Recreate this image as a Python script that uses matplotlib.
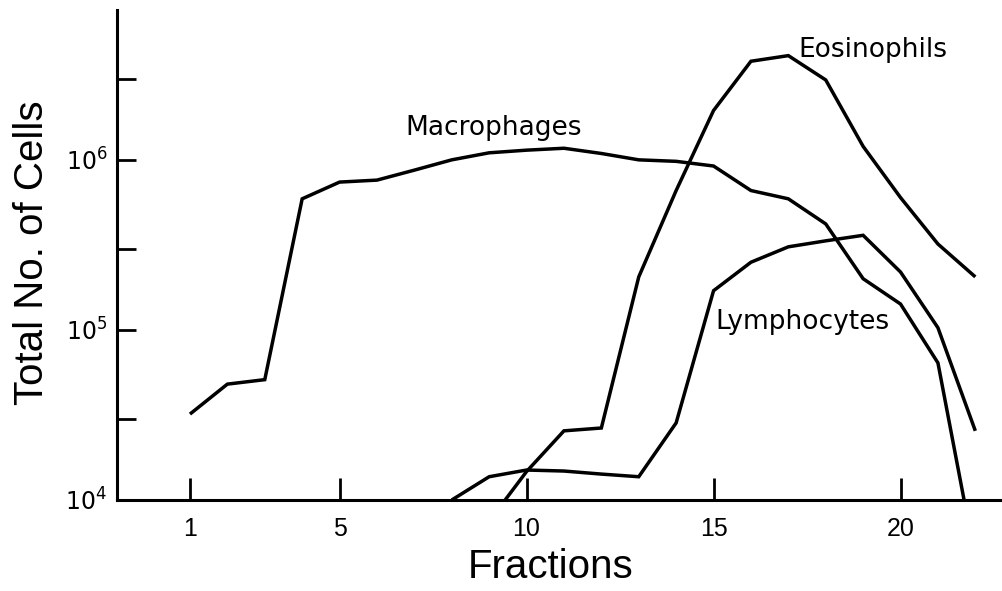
import matplotlib
matplotlib.use("Agg")
import matplotlib.pyplot as plt
from matplotlib.ticker import FixedLocator, NullLocator

plt.rcParams["mathtext.fontset"] = "dejavusans"

# ---- data ----
mac_fr = list(range(1, 23))
macrophages = [3.2e4, 4.8e4, 5.1e4, 5.9e5, 7.4e5, 7.6e5, 8.7e5, 1.0e6, 1.1e6, 1.14e6, 1.17e6,
               1.09e6, 1.0e6, 9.8e5, 9.2e5, 6.6e5, 5.9e5, 4.2e5, 2.0e5, 1.42e5, 6.4e4, 4.5e3]

eos_fr = list(range(9, 23))
eosinophils = [7.5e3, 1.47e4, 2.55e4, 2.65e4, 2.05e5, 6.6e5, 1.95e6, 3.8e6, 4.1e6, 2.95e6,
               1.2e6, 6.0e5, 3.2e5, 2.05e5]

lym_fr = list(range(8, 23))
lymphocytes = [1.0e4, 1.37e4, 1.5e4, 1.48e4, 1.42e4, 1.37e4, 2.84e4, 1.7e5, 2.5e5, 3.08e5,
               3.34e5, 3.6e5, 2.19e5, 1.03e5, 2.55e4]

x_ticks = [1, 5, 10, 15, 20]
y_major = [1e4, 1e5, 1e6]
y_major_labels = [r"$10^{4}$", r"$10^{5}$", r"$10^{6}$"]
y_minor = [3e4, 3e5, 3e6]

labels = {"Macrophages": (6.75, 1.54e6), "Eosinophils": (17.26, 4.44e6), "Lymphocytes": (15.04, 1.11e5)}

fig = plt.figure(figsize=(10.03, 5.91), dpi=100)
ax = fig.add_axes([0.1167, 0.154, 0.8833, 0.829])
ax.set_yscale("log")
ax.set_xlim(-0.95, 22.74)
ax.set_ylim(1e4, 7.6e6)

lw = 2.5
for xs, ys in [(mac_fr, macrophages), (eos_fr, eosinophils), (lym_fr, lymphocytes)]:
    ax.plot(xs, ys, color="black", lw=lw, solid_joinstyle="miter", solid_capstyle="butt")

for s in ["top", "right"]:
    ax.spines[s].set_visible(False)
for s in ["left", "bottom"]:
    ax.spines[s].set_linewidth(2.2)

ax.xaxis.set_major_locator(FixedLocator(x_ticks))
ax.xaxis.set_minor_locator(NullLocator())
ax.set_xticklabels([str(t) for t in x_ticks], fontfamily="Liberation Sans", fontsize=18)
ax.tick_params(axis="x", direction="in", length=16, width=2, pad=12)

ax.yaxis.set_major_locator(FixedLocator(y_major))
ax.yaxis.set_minor_locator(FixedLocator(y_minor))
ax.set_yticklabels(y_major_labels, fontsize=17)
ax.tick_params(axis="y", which="both", direction="in", length=14, width=2, pad=7)
ax.tick_params(axis="y", which="minor", labelleft=False)

for txt, (x, y) in labels.items():
    ax.text(x, y, txt, fontfamily="DejaVu Sans", fontsize=19, ha="left", va="center")

fig.text(0.032, 0.573, "Total No. of Cells", rotation=90, fontfamily="Liberation Sans",
         fontsize=29, ha="center", va="center")
fig.text(0.549, 0.041, "Fractions", fontfamily="Liberation Sans", fontsize=29,
         ha="center", va="center")

fig.savefig("out.png", dpi=100)
